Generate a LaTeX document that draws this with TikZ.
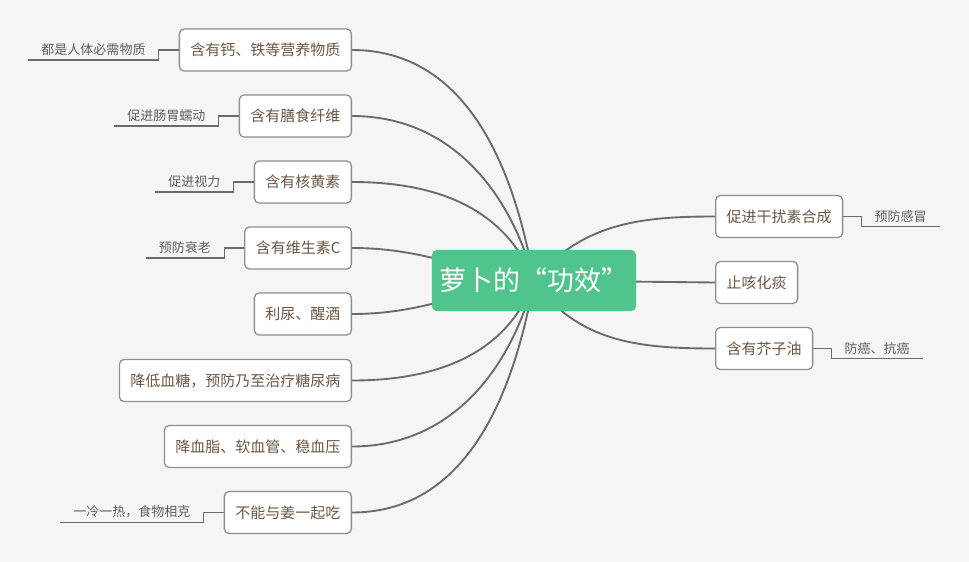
\documentclass[tikz,border=0pt]{standalone}
\usepackage{fontspec}
\newfontfamily\cjk{Noto Sans CJK SC}
\usetikzlibrary{calc,backgrounds}
\definecolor{bgcol}{HTML}{F5F5F5}
\definecolor{rootgreen}{HTML}{50C48C}
\definecolor{linegray}{HTML}{6B6B6B}
\definecolor{bordergray}{HTML}{8F8F8F}
\definecolor{topicbrown}{HTML}{6B5644}
\definecolor{memogray}{HTML}{5E5E5E}
\tikzset{
    rootbox/.style={fill=rootgreen,rounded corners=4pt,text=white,font=\cjk\fontsize{23pt}{25pt}\selectfont,minimum width=6.12cm,minimum height=1.83cm,inner sep=0pt},
    topic/.style={draw=bordergray,fill=white,line width=1.1pt,rounded corners=4pt,text=topicbrown,font=\cjk\fontsize{12.8pt}{14pt}\selectfont,minimum height=1.26cm,inner xsep=0.33cm,inner ysep=0pt},
    memo/.style={text=memogray,font=\cjk\fontsize{11.1pt}{13pt}\selectfont,inner xsep=0.39cm,inner ysep=0.12cm},
    branch/.style={draw=linegray,line width=1.6pt},
    memoline/.style={draw=linegray,line width=1.1pt}
}

\begin{document}
\begin{tikzpicture}[x=0.03cm,y=-0.03cm]
    \begin{scope}[on background layer]
        \fill[bgcol] (0,0) rectangle (969,562);
    \end{scope}
    \node[rootbox] (root) at (534,280.5) {萝卜的“功效”};

    % left topics
    \node[topic,anchor=east] (calcium) at (352,50) {含有钙、铁等营养物质};
    \node[topic,anchor=east] (fiber) at (352,116) {含有膳食纤维};
    \node[topic,anchor=east] (riboflavin) at (352,182) {含有核黄素};
    \node[topic,anchor=east] (vitc) at (352,248) {含有维生素C};
    \node[topic,anchor=east] (diuretic) at (352,314) {利尿、醒酒};
    \node[topic,anchor=east] (sugar) at (352,380.5) {降低血糖，预防乃至治疗糖尿病};
    \node[topic,anchor=east] (lipid) at (352,446.5) {降血脂、软血管、稳血压};
    \node[topic,anchor=east] (ginger) at (352,512.5) {不能与姜一起吃};

    % right topics
    \node[topic,anchor=west] (interferon) at (715,216.5) {促进干扰素合成};
    \node[topic,anchor=west] (cough) at (715,282.5) {止咳化痰};
    \node[topic,anchor=west] (mustard) at (715,348.5) {含有芥子油};

    % notes
    \node[memo,anchor=south east] (essential) at ($(calcium.west)+(-20,10)$) {都是人体必需物质};
    \node[memo,anchor=south east] (peristalsis) at ($(fiber.west)+(-20,10)$) {促进肠胃蠕动};
    \node[memo,anchor=south east] (vision) at ($(riboflavin.west)+(-20,10)$) {促进视力};
    \node[memo,anchor=south east] (aging) at ($(vitc.west)+(-20,10)$) {预防衰老};
    \node[memo,anchor=south east] (clash) at ($(ginger.west)+(-20,10)$) {一冷一热，食物相克};
    \node[memo,anchor=south west] (cold) at ($(interferon.east)+(18,10)$) {预防感冒};
    \node[memo,anchor=south west] (cancer) at ($(mustard.east)+(18,10)$) {防癌、抗癌};

    \draw[memoline] (calcium.west) -- ++(-20,0) |- (essential.south west);
    \draw[memoline] (fiber.west) -- ++(-20,0) |- (peristalsis.south west);
    \draw[memoline] (riboflavin.west) -- ++(-20,0) |- (vision.south west);
    \draw[memoline] (vitc.west) -- ++(-20,0) |- (aging.south west);
    \draw[memoline] (ginger.west) -- ++(-20,0) |- (clash.south west);
    \draw[memoline] (interferon.east) -- ++(18,0) |- (cold.south east);
    \draw[memoline] (mustard.east) -- ++(18,0) |- (cancer.south east);

    % branches behind the root
    \begin{scope}[on background layer]
        \draw[branch] (root.center) to[out=100,in=0] (calcium.east);
        \draw[branch] (root.center) to[out=105,in=0] (fiber.east);
        \draw[branch] (root.center) to[out=112,in=0] (riboflavin.east);
        \draw[branch] (root.center) to[out=172,in=0] (vitc.east);
        \draw[branch] (root.center) to[out=188,in=0] (diuretic.east);
        \draw[branch] (root.center) to[out=250,in=0] (sugar.east);
        \draw[branch] (root.center) to[out=255,in=0] (lipid.east);
        \draw[branch] (root.center) to[out=260,in=0] (ginger.east);
        \draw[branch] (root.center) to[out=50,in=180] (interferon.west);
        \draw[branch] (root.center) -- (cough.west);
        \draw[branch] (root.center) to[out=-55,in=180] (mustard.west);
    \end{scope}
\end{tikzpicture}
\end{document}
